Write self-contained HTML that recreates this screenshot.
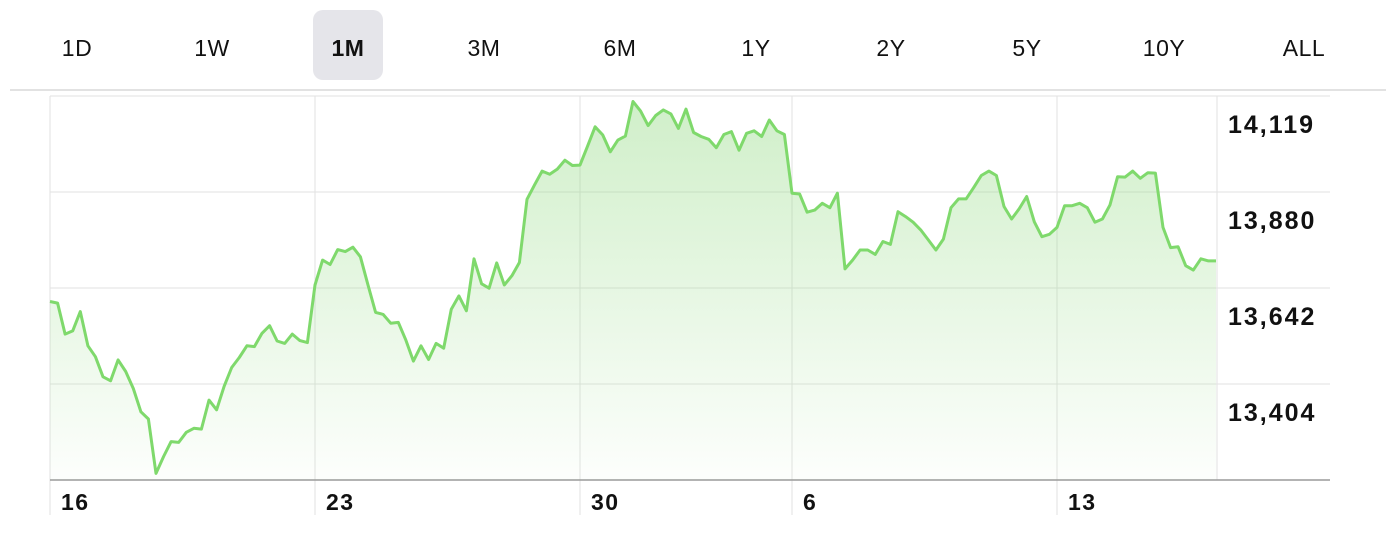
<!DOCTYPE html>
<html><head><meta charset="utf-8"><style>
html,body{margin:0;padding:0;background:#fff;width:1386px;height:548px;overflow:hidden;font-family:"Liberation Sans",sans-serif;}
</style></head><body>
<svg width="1386" height="548" xmlns="http://www.w3.org/2000/svg">
<defs><linearGradient id="fillg" x1="0" y1="0" x2="0" y2="1">
<stop offset="0" stop-color="#8fd97f" stop-opacity="0.42"/>
<stop offset="1" stop-color="#8fd97f" stop-opacity="0.02"/></linearGradient></defs>
<g id="tabs"></g>
<line x1="10" y1="90" x2="1386" y2="90" stroke="#d8d8d8" stroke-width="1.5"/>
<g id="grid"></g>
<path id="area" fill="url(#fillg)"/>
<path id="line" fill="none" stroke="#7fd96c" stroke-width="3" stroke-linejoin="round"/>
<g id="labels"></g>
</svg>
<script>
const tabs=["1D","1W","1M","3M","6M","1Y","2Y","5Y","10Y","ALL"];
const tabX=[77,212,348,484,620,756,891,1027,1164,1304];
const yTicks=[14119,13880,13642,13404];
const xTickLabels=["16","23","30","6","13"];
const xTickIdx=[0,35,70,98,133];
const prices=[13678,13674,13597,13605,13653,13568,13541,13491,13481,13533,13504,13462,13404,13386,13251,13293,13330,13328,13353,13363,13361,13433,13409,13467,13514,13539,13568,13566,13599,13618,13580,13574,13597,13581,13576,13719,13781,13770,13807,13802,13813,13789,13719,13651,13646,13624,13626,13582,13530,13568,13534,13574,13562,13659,13692,13655,13784,13722,13711,13774,13719,13742,13775,13932,13968,14002,13994,14007,14029,14016,14017,14064,14112,14092,14050,14079,14089,
14175,14151,14115,14140,14154,14144,14108,14156,14098,14088,14081,14060,14093,14100,14054,14096,14102,14088,14129,14102,14093,13947,13945,13900,13905,13922,13911,13947,13759,13781,13806,13806,13795,13827,13820,13901,13889,13875,13856,13831,13806,13833,13911,13933,13933,13961,13991,14002,13991,13914,13883,13908,13939,13876,13839,13845,13862,13916,13916,13922,13911,13875,13883,13918,13988,13987,14002,13984,13998,13997,13862,13812,13814,13767,13756,13784,13779,13779];
const NS="http://www.w3.org/2000/svg";
const x0=50,x1=1216,yBase=480;
const N=prices.length;
function xs(i){return x0+(x1-x0)*i/(N-1);}
function ys(v){return 124+(14119-v)*96/238.5;}
function mk(t,a,p){const e=document.createElementNS(NS,t);for(const k in a)e.setAttribute(k,a[k]);p.appendChild(e);return e;}
const tg=document.getElementById('tabs');
tabs.forEach((t,i)=>{
  if(t==="1M"){const r=mk('rect',{x:tabX[i]-35,y:10,width:70,height:70,rx:10,fill:'#e5e5ea'},tg);
    
    }
  const e=mk('text',{x:tabX[i],y:56,'text-anchor':'middle','font-size':23,'letter-spacing':0.5,'font-weight':t==="1M"?'bold':'normal',fill:'#111'},tg);
  e.textContent=t;
  
  
});
const gg=document.getElementById('grid');
[96,192,288,384].forEach(y=>{const l=mk('line',{x1:50,y1:y,x2:1330,y2:y,stroke:'#e2e2e2','stroke-width':1},gg);
  
  });
const vx=[50].concat(xTickIdx.slice(1).map(i=>xs(i))).concat([1217]);
vx.forEach(x=>{const l=mk('line',{x1:x,y1:96,x2:x,y2:x===1217?480:515,stroke:'#e2e2e2','stroke-width':1},gg);
  
  });
const ax=mk('line',{x1:50,y1:480,x2:1330,y2:480,stroke:'#9a9a9a','stroke-width':1.5},gg);


let d='';prices.forEach((v,i)=>{d+=(i?'L':'M')+xs(i).toFixed(1)+' '+ys(v).toFixed(1);});
document.getElementById('line').setAttribute('d',d);
document.getElementById('area').setAttribute('d',d+'L'+x1+' '+yBase+'L'+x0+' '+yBase+'Z');
const lg=document.getElementById('labels');
yTicks.forEach(v=>{const t=mk('text',{x:1228,y:ys(v)+9,'font-size':25,'letter-spacing':2,'font-weight':'bold',fill:'#111'},lg);
  t.textContent=v.toLocaleString('en-US');
  
  });
xTickLabels.forEach((s,i)=>{const x=(i===0?50:xs(xTickIdx[i]));
  const t=mk('text',{x:x+11,y:510,'font-size':23,'letter-spacing':1.5,'font-weight':'bold',fill:'#111'},lg);
  t.textContent=s;
  
  });
</script>
</body></html>
